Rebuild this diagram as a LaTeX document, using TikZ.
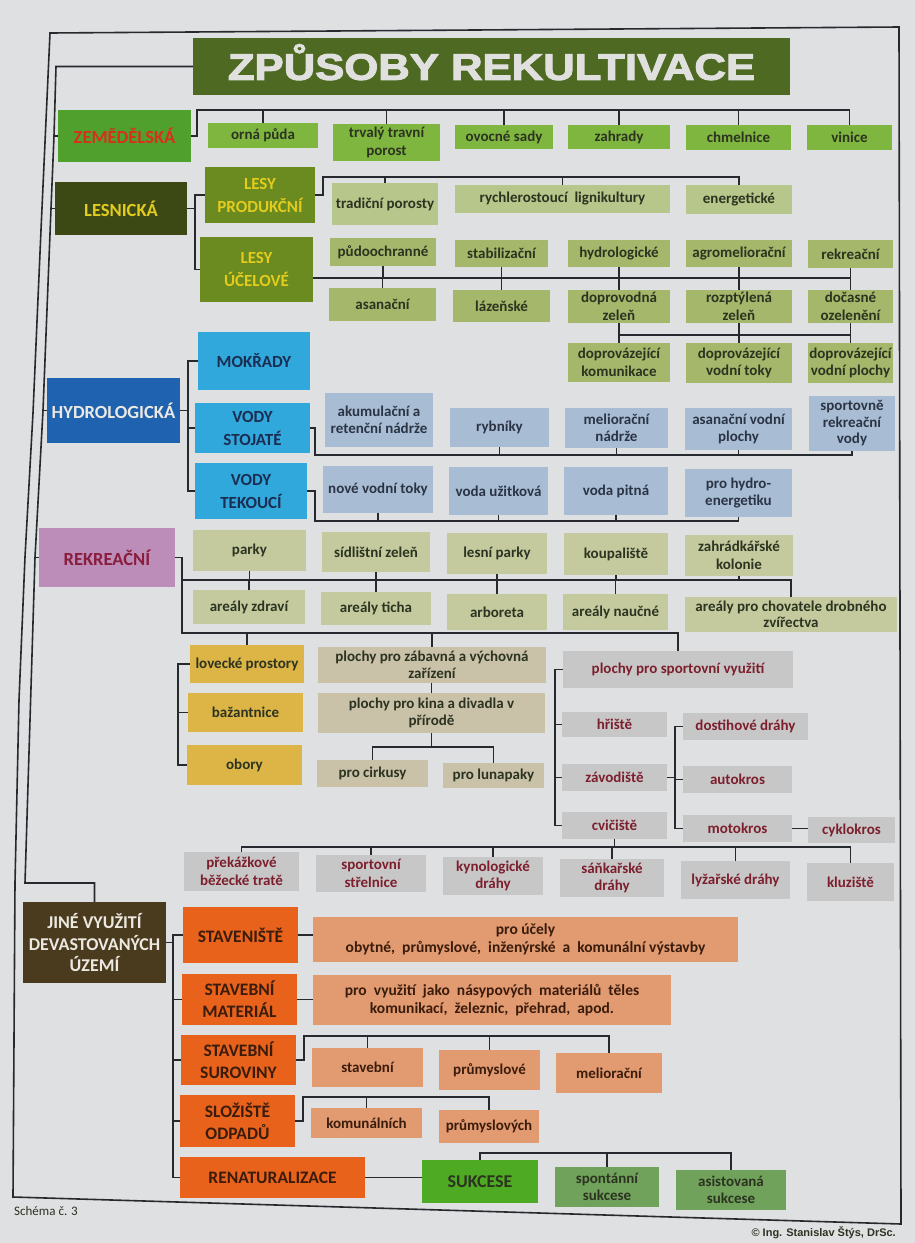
\documentclass[tikz,border=0pt]{standalone}
\usepackage{graphicx}
\usepackage{fontspec}
\setmainfont{Carlito}
\newfontfamily\arialf{Liberation Sans}
\newfontfamily\titlef{Liberation Sans}[BoldFeatures={FakeBold=2.5}]
\usetikzlibrary{calc}
\definecolor{bg}{HTML}{DEE0E2}
\definecolor{lnc}{HTML}{26292D}
\definecolor{cTitle}{HTML}{4E6A22}
\definecolor{cTitleT}{HTML}{E0E0DE}
\definecolor{cZem}{HTML}{4FA02C}
\definecolor{cZemT}{HTML}{D8301C}
\definecolor{cZemS}{HTML}{7FB640}
\definecolor{cDark}{HTML}{2C3320}
\definecolor{cLes}{HTML}{3C4915}
\definecolor{cYel}{HTML}{E2CC1E}
\definecolor{cLesP}{HTML}{6B8A1F}
\definecolor{cLesSa}{HTML}{B7C68A}
\definecolor{cLesSb}{HTML}{A4B76A}
\definecolor{cHyd}{HTML}{1F62B0}
\definecolor{cCyan}{HTML}{30A8DC}
\definecolor{cNavy}{HTML}{1C2D52}
\definecolor{cHydS}{HTML}{A8BDD4}
\definecolor{cHydT}{HTML}{2B3445}
\definecolor{cRek}{HTML}{BC8DB8}
\definecolor{cRekT}{HTML}{8A1D3E}
\definecolor{cRekS}{HTML}{C4CA9E}
\definecolor{cGold}{HTML}{DDB446}
\definecolor{cTaupe}{HTML}{C9C1A8}
\definecolor{cGray}{HTML}{C8C7C8}
\definecolor{cMaroon}{HTML}{7C1F2D}
\definecolor{cJine}{HTML}{4A3B1E}
\definecolor{cLight}{HTML}{ECE8E2}
\definecolor{cOr}{HTML}{E8621C}
\definecolor{cOrT}{HTML}{3A1C0C}
\definecolor{cSal}{HTML}{E29A70}
\definecolor{cSuk}{HTML}{4DAA22}
\definecolor{cSukS}{HTML}{70A25C}
\tikzset{
 box/.style={draw=none,inner sep=0pt,align=center,text=cDark,font=\bfseries\fontsize{15}{17.5}\selectfont},
 cat/.style={box,font=\bfseries\fontsize{18.5}{22}\selectfont},
 subcat/.style={box,font=\bfseries\fontsize{17}{23}\selectfont},
 orng/.style={box,fill=cOr,text=cOrT,font=\bfseries\fontsize{17.5}{22}\selectfont},
 sal/.style={box,fill=cSal,text=cOrT},
 grayb/.style={box,fill=cGray,text=cMaroon},
 hyds/.style={box,fill=cHydS,text=cHydT},
 ln/.style={draw=lnc,line width=1.6pt},
}
\newcommand\bx[7]{\node[#6,minimum width={#4-#2},minimum height={#5-#3}] (#1) at ({(#2+#4)/2},{(#3+#5)/2}) {#7};}
\begin{document}
\begin{tikzpicture}[x=1pt,y=-1pt]
\fill[bg] (0,0) rectangle (915,1243);
\useasboundingbox (0,0) rectangle (915,1243);
% frame
\draw[ln] (50,33) -- (899,27) -- (901,1224) -- (13,1197) -- (15,883) -- (19,700) -- (25,557) -- (33,413) -- (41,230) -- cycle;
% title
\bx{title}{193}{38}{790}{95}{box,fill=cTitle,text=cTitleT,font=\titlef\bfseries\fontsize{37}{37}\selectfont}{\raisebox{0pt}[0.72em][0pt]{\scalebox{1.18}[1]{ZPŮSOBY REKULTIVACE}}}
% zemedelska
\bx{zem}{58}{110}{191}{162}{cat,fill=cZem,text=cZemT}{ZEMĚDĚLSKÁ}
\bx{orna}{208}{123}{318}{148}{box,fill=cZemS}{orná půda}
\bx{trvaly}{333}{124}{440}{161}{box,fill=cZemS}{trvalý travní\\porost}
\bx{ovocne}{455}{125}{553}{149}{box,fill=cZemS}{ovocné sady}
\bx{zahrady}{568}{125}{670}{149}{box,fill=cZemS}{zahrady}
\bx{chmel}{686}{125}{791}{150}{box,fill=cZemS}{chmelnice}
\bx{vinice}{807}{125}{892}{150}{box,fill=cZemS}{vinice}
% lesnicka
\bx{les}{55}{182}{187}{235}{cat,fill=cLes,text=cYel}{LESNICKÁ}
\bx{lprod}{205}{167}{315}{223}{subcat,fill=cLesP,text=cYel}{LESY\\PRODUKČNÍ}
\bx{lucel}{200}{237}{313}{302}{subcat,fill=cLesP,text=cYel}{LESY\\ÚČELOVÉ}
\bx{trad}{332}{183}{438}{225}{box,fill=cLesSa}{tradiční porosty}
\bx{rychl}{455}{185}{670}{213}{box,fill=cLesSa}{rychlerostoucí\ \ lignikultury}
\bx{energ}{686}{185}{792}{214}{box,fill=cLesSa}{energetické}
\bx{pudo}{330}{238}{436}{266}{box,fill=cLesSb}{půdoochranné}
\bx{stab}{455}{240}{548}{267}{box,fill=cLesSb}{stabilizační}
\bx{hydrol}{568}{240}{670}{267}{box,fill=cLesSb}{hydrologické}
\bx{agro}{686}{240}{792}{267}{box,fill=cLesSb}{agromeliorační}
\bx{rekr}{808}{240}{893}{268}{box,fill=cLesSb}{rekreační}
\bx{asan}{329}{288}{436}{321}{box,fill=cLesSb}{asanační}
\bx{laz}{453}{290}{550}{322}{box,fill=cLesSb}{lázeňské}
\bx{doprov}{568}{290}{670}{323}{box,fill=cLesSb}{doprovodná\\zeleň}
\bx{rozpt}{686}{290}{792}{323}{box,fill=cLesSb}{rozptýlená\\zeleň}
\bx{docas}{808}{290}{893}{323}{box,fill=cLesSb}{dočasné\\ozelenění}
\bx{doprk}{568}{343}{670}{382}{box,fill=cLesSb}{doprovázející\\komunikace}
\bx{doprv}{686}{343}{792}{383}{box,fill=cLesSb}{doprovázející\\vodní toky}
\bx{doprp}{808}{343}{893}{383}{box,fill=cLesSb}{doprovázející\\vodní plochy}
% hydrologicka
\bx{hyd}{47}{378}{180}{443}{cat,fill=cHyd,text=cLight}{HYDROLOGICKÁ}
\bx{mok}{198}{332}{310}{390}{subcat,fill=cCyan,text=cNavy}{MOKŘADY}
\bx{vstoj}{195}{403}{310}{453}{subcat,fill=cCyan,text=cNavy}{VODY\\STOJATÉ}
\bx{vtek}{195}{463}{307}{519}{subcat,fill=cCyan,text=cNavy}{VODY\\TEKOUCÍ}
\bx{akum}{325}{393}{433}{447}{hyds}{akumulační a\\retenční nádrže}
\bx{rybn}{450}{408}{549}{447}{hyds}{rybníky}
\bx{melnad}{565}{408}{668}{448}{hyds}{meliorační\\nádrže}
\bx{asvp}{685}{408}{792}{450}{hyds}{asanační vodní\\plochy}
\bx{sport}{809}{396}{895}{451}{hyds,font=\bfseries\fontsize{15}{16.5}\selectfont}{sportovně\\rekreační\\vody}
\bx{nvt}{323}{466}{433}{513}{hyds}{nové vodní toky}
\bx{vuz}{449}{467}{548}{515}{hyds}{voda užitková}
\bx{vpit}{564}{467}{668}{515}{hyds}{voda pitná}
\bx{phe}{685}{469}{792}{517}{hyds}{pro hydro-\\energetiku}
% rekreacni
\bx{rek}{39}{528}{175}{587}{cat,fill=cRek,text=cRekT}{REKREAČNÍ}
\bx{parky}{193}{530}{306}{571}{box,fill=cRekS}{parky}
\bx{sidl}{322}{532}{430}{572}{box,fill=cRekS}{sídlištní zeleň}
\bx{lesp}{447}{533}{547}{574}{box,fill=cRekS}{lesní parky}
\bx{koup}{564}{533}{668}{575}{box,fill=cRekS}{koupaliště}
\bx{zahrk}{685}{535}{793}{576}{box,fill=cRekS}{zahrádkářské\\kolonie}
\bx{arz}{193}{590}{305}{624}{box,fill=cRekS}{areály zdraví}
\bx{art}{321}{592}{431}{625}{box,fill=cRekS}{areály ticha}
\bx{arb}{447}{594}{547}{630}{box,fill=cRekS}{arboreta}
\bx{arn}{563}{594}{668}{630}{box,fill=cRekS}{areály naučné}
\bx{arch}{685}{597}{897}{632}{box,fill=cRekS,font=\bfseries\fontsize{15}{16.5}\selectfont}{areály pro chovatele drobného\\zvířectva}
\bx{lov}{190}{645}{304}{683}{box,fill=cGold}{lovecké prostory}
\bx{baz}{188}{693}{303}{732}{box,fill=cGold}{bažantnice}
\bx{obory}{187}{745}{302}{785}{box,fill=cGold}{obory}
\bx{zabav}{318}{647}{546}{683}{box,fill=cTaupe}{plochy pro zábavná a výchovná\\zařízení}
\bx{kina}{318}{693}{545}{733}{box,fill=cTaupe}{plochy pro kina a divadla v\\přírodě}
\bx{cirk}{317}{760}{428}{787}{box,fill=cTaupe}{pro cirkusy}
\bx{luna}{443}{763}{544}{788}{box,fill=cTaupe}{pro lunapaky}
\bx{psport}{563}{651}{793}{688}{grayb}{plochy pro sportovní využití}
\bx{hrist}{562}{712}{667}{737}{grayb}{hřiště}
\bx{zavod}{562}{764}{667}{791}{grayb}{závodiště}
\bx{cvic}{562}{812}{667}{839}{grayb}{cvičiště}
\bx{dost}{683}{713}{808}{740}{grayb}{dostihové dráhy}
\bx{autok}{683}{766}{792}{793}{grayb}{autokros}
\bx{motok}{683}{815}{792}{842}{grayb}{motokros}
\bx{cyklo}{808}{817}{895}{843}{grayb}{cyklokros}
\bx{prek}{184}{852}{299}{891}{grayb}{překážkové\\běžecké tratě}
\bx{strel}{316}{855}{426}{892}{grayb}{sportovní\\střelnice}
\bx{kyno}{443}{857}{543}{895}{grayb}{kynologické\\dráhy}
\bx{sank}{560}{859}{664}{897}{grayb}{sáňkařské\\dráhy}
\bx{lyz}{681}{861}{790}{899}{grayb}{lyžařské dráhy}
\bx{kluz}{807}{863}{894}{901}{grayb}{kluziště}
% jine vyuziti
\bx{jine}{23}{902}{166}{983}{cat,font=\bfseries\fontsize{18}{21.7}\selectfont,fill=cJine,text=cLight}{JINÉ VYUŽITÍ\\DEVASTOVANÝCH\\ÚZEMÍ}
\bx{stav}{183}{907}{298}{963}{orng}{STAVENIŠTĚ}
\bx{smat}{182}{974}{297}{1025}{orng}{STAVEBNÍ\\MATERIÁL}
\bx{ssur}{181}{1035}{296}{1085}{orng}{STAVEBNÍ\\SUROVINY}
\bx{slz}{180}{1095}{295}{1147}{orng}{SLOŽIŠTĚ\\ODPADŮ}
\bx{renat}{180}{1157}{365}{1198}{orng}{RENATURALIZACE}
\bx{ucely}{313}{917}{738}{962}{sal,font=\bfseries\fontsize{15.5}{18.5}\selectfont}{pro účely\\obytné,\ \ průmyslové,\ \ inženýrské\ \ a\ \ komunální výstavby}
\bx{nasyp}{313}{975}{671}{1025}{sal,font=\bfseries\fontsize{15.5}{18.5}\selectfont}{pro\ \ využití\ \ jako\ \ násypových\ \ materiálů\ \ těles\\komunikací,\ \ železnic,\ \ přehrad,\ \ apod.}
\bx{stavb}{312}{1048}{423}{1087}{sal}{stavební}
\bx{prum}{439}{1050}{540}{1090}{sal}{průmyslové}
\bx{melior}{556}{1053}{662}{1093}{sal}{meliorační}
\bx{komun}{311}{1108}{422}{1138}{sal}{komunálních}
\bx{prumy}{439}{1110}{539}{1143}{sal}{průmyslových}
\bx{sukc}{422}{1160}{538}{1203}{cat,font=\bfseries\fontsize{18}{21}\selectfont,fill=cSuk}{SUKCESE}
\bx{spont}{555}{1167}{659}{1207}{box,fill=cSukS}{spontánní\\sukcese}
\bx{asist}{676}{1170}{786}{1210}{box,fill=cSukS}{asistovaná\\sukcese}
% footer texts
\node[anchor=west,inner sep=0pt,font=\fontsize{13}{15}\selectfont,text=cDark] (schema) at (14,1211) {Schéma č. 3};
\node[anchor=east,inner sep=0pt,font=\arialf\bfseries\fontsize{11}{13}\selectfont,text=cDark] (copy) at (896,1233) {© Ing. Stanislav Štýs, DrSc.};
% trunk
\coordinate (t0) at (56,66.5);
\coordinate (tz) at (54,136);
\coordinate (tl) at (51,208.5);
\coordinate (th) at (43,410.5);
\coordinate (tr) at (35,557.5);
\coordinate (tb) at (25,883);
\draw[ln] (title.west) -- (t0) -- (tz) -- (tl) -- (th) -- (tr) -- (tb) -| (jine.north);
\draw[ln] (tz) -- (zem.west);
\draw[ln] (tl) -- (les.west);
\draw[ln] (th) -- (hyd.west);
\draw[ln] (tr) -- (rek.west);
% zem bus
\coordinate (zb) at (197,110);
\draw[ln] (zem.east) -| (zb) -| (vinice.north);
\foreach \n in {orna,trvaly,ovocne,zahrady,chmel} \draw[ln] (\n.north) -- (\n.north |- zb);
% les
\coordinate (lb) at (195,0);
\draw[ln] (les.east) -- (les.east -| lb);
\draw[ln] (lprod.west) -| (lb |- lucel.west) -- (lucel.west);
\coordinate (pb) at (323,177);
\draw[ln] (lprod.east) -| (pb) -| (energ.north);
\foreach \n in {trad,rychl} \draw[ln] (\n.north) -- (\n.north |- pb);
\coordinate (ub) at (0,278);
\draw[ln] (lucel.east |- ub) -- (rekr.south |- ub);
\foreach \a/\b in {pudo/asan,stab/laz,hydrol/doprov,agro/rozpt,rekr/docas} {\draw[ln] (\a.south) -- (\a.south |- ub); \draw[ln] (\b.north) -- (\b.north |- ub);}
\coordinate (db) at (0,335);
\draw[ln] (doprov.south |- db) -- (docas.south |- db);
\foreach \a/\b in {doprov/doprk,rozpt/doprv,docas/doprp} \draw[ln] (\a.south) -- (\b.north);
% hydro
\coordinate (hb) at (188,0);
\draw[ln] (hyd.east) -- (hyd.east -| hb);
\draw[ln] (mok.west) -| (hb |- vtek.west) -- (vtek.west);
\draw[ln] (vstoj.west) -- (vstoj.west -| hb);
\coordinate (sb) at (315,455);
\draw[ln] (vstoj.east) -| (sb) -| (sport.south);
\foreach \n in {rybn,melnad,asvp} \draw[ln] (\n.south) -- (\n.south |- sb);
\coordinate (tkb) at (315,521);
\draw[ln] (vtek.east) -| (tkb) -| (phe.south);
\foreach \n in {nvt,vuz,vpit} \draw[ln] (\n.south) -- (\n.south |- tkb);
% rekreacni
\coordinate (rb) at (182,0);
\coordinate (rbus) at (0,580);
\coordinate (rbust) at (0,633);
\draw[ln] (rek.east) -| (rb |- rbust) -| (psport.north);
\draw[ln] (rb |- rbus) -- (arch.north |- rbus) -- (arch.north);
\foreach \n in {parky,sidl,lesp,koup,zahrk} \draw[ln] (\n.south) -- (\n.south |- rbus);
\foreach \n in {arz,art,arb,arn} \draw[ln] (\n.north) -- (\n.north |- rbus);
\draw[ln] (lov.north) -- (lov.north |- rbust);
\draw[ln] (zabav.north) -- (zabav.north |- rbust);
\coordinate (lbb) at (178,0);
\draw[ln] (lov.west) -| (lbb |- obory.west) -- (obory.west);
\draw[ln] (baz.west) -- (baz.west -| lbb);
\draw[ln] (kina.north) -- (kina.north |- zabav.south);
\coordinate (cb) at (0,747);
\draw[ln] (kina.south) -- (kina.south |- cb);
\draw[ln] (cirk.north) |- (luna.north |- cb) -- (luna.north);
\coordinate (spb) at (555,0);
\draw[ln] (psport.west) -| (spb |- cvic.west) -- (cvic.west);
\foreach \n in {hrist,zavod} \draw[ln] (\n.west) -- (\n.west -| spb);
\coordinate (zvb) at (675,0);
\draw[ln] (dost.west) -| (zvb |- motok.west) -- (motok.west);
\draw[ln] (zavod.east) -- (zavod.east -| zvb);
\draw[ln] (autok.west) -- (autok.west -| zvb);
\draw[ln] (motok.east) -- (motok.east -| cyklo.west);
\coordinate (bb) at (0,847);
\draw[ln] (prek.north) |- (kluz.north |- bb) -- (kluz.north);
\foreach \n in {strel,kyno,sank,lyz} \draw[ln] (\n.north) -- (\n.north |- bb);
\draw[ln] (cvic.south) -- (cvic.south |- bb);
% jine
\coordinate (jb) at (173,0);
\draw[ln] (jine.east) -- (jine.east -| jb);
\draw[ln] (stav.west) -| (jb |- renat.west) -- (renat.west);
\foreach \n in {smat,ssur,slz} \draw[ln] (\n.west) -- (\n.west -| jb);
\draw[ln] (stav.east) -- (stav.east -| ucely.west);
\draw[ln] (smat.east) -- (smat.east -| nasyp.west);
\coordinate (surb) at (304,1036);
\draw[ln] (ssur.east) -| (surb) -| (melior.north);
\foreach \n in {stavb,prum} \draw[ln] (\n.north) -- (\n.north |- surb);
\coordinate (slb) at (303,1097);
\draw[ln] (slz.east) -| (slb) -| (prumy.north);
\draw[ln] (komun.north) -- (komun.north |- slb);
\draw[ln] (renat.east) -- (renat.east -| sukc.west);
\coordinate (skb) at (0,1153);
\draw[ln] (sukc.north) |- (asist.north |- skb) -- (asist.north);
\draw[ln] (spont.north) -- (spont.north |- skb);
\end{tikzpicture}
\end{document}
